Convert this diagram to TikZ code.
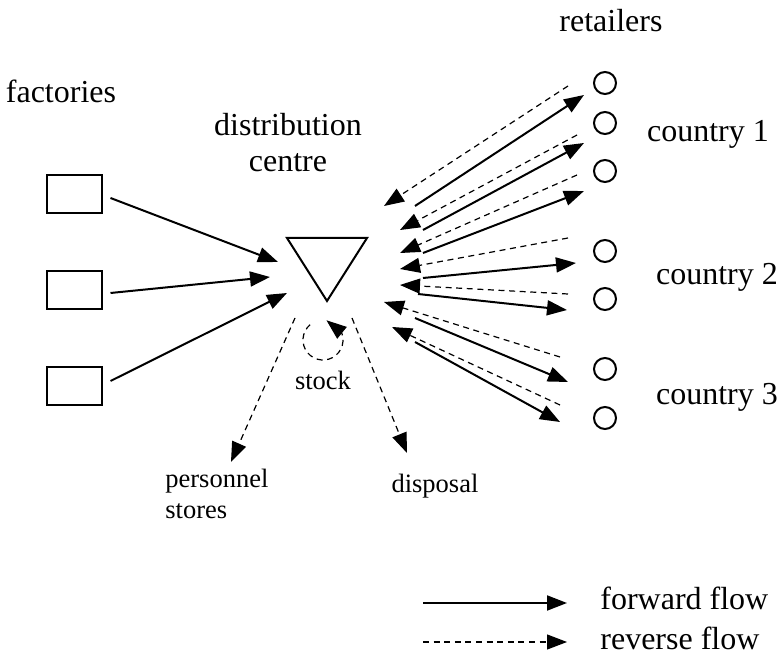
\documentclass[tikz,border=0pt]{standalone}
\usepackage{fontspec}
\setmainfont{Liberation Serif}
\usetikzlibrary{positioning,arrows.meta,shapes.geometric,bending}

\begin{document}
\begin{tikzpicture}[
      x=0.5pt, y=-0.5pt,
      facbox/.style={draw, line width=1pt, minimum width=27.5pt, minimum height=19pt, inner sep=0pt},
      shop/.style={draw, circle, line width=1pt, minimum size=11pt, inner sep=0pt},
      lbl/.style={font=\fontsize{16}{18}\selectfont, inner sep=0pt, align=center},
      small/.style={font=\fontsize{13.25}{15.5}\selectfont, inner sep=0pt, align=left},
      fwd/.style={-{Triangle[length=10pt, width=7.5pt]}, line width=1pt},
      rev/.style={-{Triangle[length=10pt, width=7.5pt]}, line width=0.6pt, dash pattern=on 3pt off 2.3pt}
  ]
    \useasboundingbox (0,0) rectangle (783,657);
    % factories
    \node[facbox] (fac1) at (74,194) {};
    \node[facbox] (fac2) at (74,290) {};
    \node[facbox] (fac3) at (74,386) {};
    \node[lbl, anchor=base] (factxt) at (61,103) {factories};
    % distribution centre
    \draw[line width=1pt] (287,238) coordinate (dctl) -- (367,238) coordinate (dctr)
      -- (327,301) coordinate (dcbot) -- cycle;
    \node[lbl] (dctxt) at (288,143) {distribution\\centre};
    % retailers
    \node[shop] (ret1) at (605,83) {};
    \node[shop] (ret2) at (605,123) {};
    \node[shop] (ret3) at (605,171) {};
    \node[shop] (ret4) at (605,251) {};
    \node[shop] (ret5) at (605,299) {};
    \node[shop] (ret6) at (605,369) {};
    \node[shop] (ret7) at (605,418) {};
    \node[lbl, anchor=base] (rettxt) at (611,32) {retailers};
    \node[lbl, anchor=base] (cty1) at (708,142) {country 1};
    \node[lbl, anchor=base] (cty2) at (717,285) {country 2};
    \node[lbl, anchor=base] (cty3) at (717,405) {country 3};
    % other destinations
    \node[small, anchor=base] (stocktxt) at (323,390) {stock};
    \node[small, anchor=north west] (perstxt) at (165,469) {personnel\\stores};
    \node[small, anchor=base] (disptxt) at (435,493) {disposal};

    % factories -> centre
    \coordinate (in1) at (278,262);
    \coordinate (in2) at (270,277);
    \coordinate (in3) at (287,293);
    \draw[fwd] ([shift={(4pt,-2pt)}]fac1.east) -- (in1);
    \draw[fwd] ([shift={(4pt,-1.5pt)}]fac2.east) -- (in2);
    \draw[fwd] ([shift={(4pt,2.5pt)}]fac3.east) -- (in3);

    % centre <-> retailers
    \coordinate (fa1) at (415,206); \coordinate (fb1) at (584,95);
    \coordinate (fa2) at (423,230); \coordinate (fb2) at (584,143);
    \coordinate (fa3) at (423,253); \coordinate (fb3) at (584,191);
    \coordinate (fa4) at (423,278); \coordinate (fb4) at (576,263);
    \coordinate (fa5) at (418,294); \coordinate (fb5) at (567,310);
    \coordinate (fa6) at (415,318); \coordinate (fb6) at (568,382);
    \coordinate (fa7) at (415,342); \coordinate (fb7) at (560,422);
    \coordinate (ra1) at (568,86);  \coordinate (rb1) at (384,206);
    \coordinate (ra2) at (577,135); \coordinate (rb2) at (400,230);
    \coordinate (ra3) at (577,175); \coordinate (rb3) at (400,253);
    \coordinate (ra4) at (568,238); \coordinate (rb4) at (400,269);
    \coordinate (ra5) at (568,294); \coordinate (rb5) at (400,285);
    \coordinate (ra6) at (560,357); \coordinate (rb6) at (384,302);
    \coordinate (ra7) at (560,405); \coordinate (rb7) at (392,327);
    \draw[fwd] (fa1) -- (fb1);
    \draw[fwd] (fa2) -- (fb2);
    \draw[fwd] (fa3) -- (fb3);
    \draw[fwd] (fa4) -- (fb4);
    \draw[fwd] (fa5) -- (fb5);
    \draw[fwd] (fa6) -- (fb6);
    \draw[fwd] (fa7) -- (fb7);
    \draw[rev] (ra1) -- (rb1);
    \draw[rev] (ra2) -- (rb2);
    \draw[rev] (ra3) -- (rb3);
    \draw[rev] (ra4) -- (rb4);
    \draw[rev] (ra5) -- (rb5);
    \draw[rev] (ra6) -- (rb6);
    \draw[rev] (ra7) -- (rb7);

    % centre -> stock, personnel stores, disposal
    \coordinate (stk) at (323,340);
    \coordinate (pa) at (295,318); \coordinate (pb) at (231,462);
    \coordinate (da) at (352,318); \coordinate (db) at (407,453);
    \draw[rev] ([shift={(130:10pt)}]stk) arc[start angle=130, end angle=440, radius=10pt];
    \draw[rev] (pa) -- (pb);
    \draw[rev] (da) -- (db);

    % legend
    \coordinate (lf1) at (423,603); \coordinate (lf2) at (567,603);
    \coordinate (lr1) at (423,642); \coordinate (lr2) at (567,642);
    \draw[fwd] (lf1) -- (lf2);
    \draw[rev] (lr1) -- (lr2);
    \node[lbl, anchor=base west] (fwdtxt) at (600,610) {forward flow};
    \node[lbl, anchor=base west] (revtxt) at (600,650) {reverse flow};
  \end{tikzpicture}
\end{document}
